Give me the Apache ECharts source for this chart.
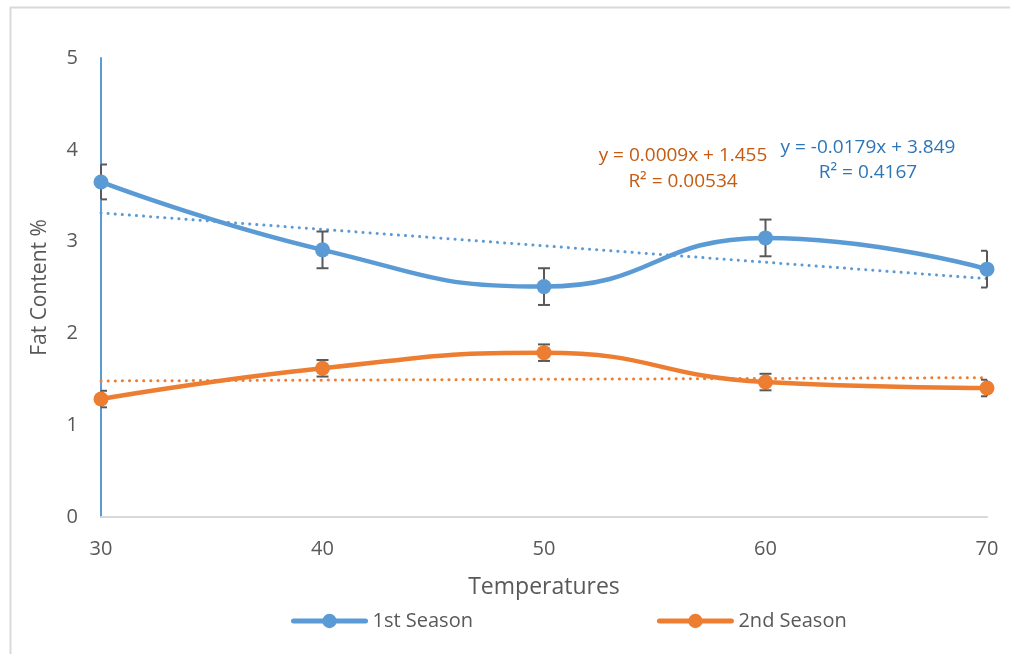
<!DOCTYPE html>
<html>
<head>
<meta charset="utf-8">
<script src="https://cdn.jsdelivr.net/npm/echarts@6/dist/echarts.min.js"></script>
<style>
  html, body { margin: 0; padding: 0; background: #fff; }
  #main { width: 1010px; height: 654px; }
</style>
</head>
<body>
<div id="main"></div>
<script>
// данные
const temps = [30, 40, 50, 60, 70];
const season1 = [3.65, 2.91, 2.51, 3.04, 2.70];
const season2 = [1.285, 1.62, 1.79, 1.47, 1.405];
const err1 = [0.19, 0.2, 0.2, 0.2, 0.2];
const err2 = [0.09, 0.09, 0.09, 0.09, 0.09];
// концы линий тренда (значения при 30 и 70)
const trendX = [30, 70];
const trend1 = [3.312, 2.596];
const trend2 = [1.482, 1.518];
const yTicks = [0, 1, 2, 3, 4, 5];

const blue = '#5B9BD5';
const orange = '#ED7D31';
const txt = '#595959';
const font = '"Open Sans", sans-serif';

const pairs = (xs, ys) => xs.map((x, i) => [x, ys[i]]);
const bars = (ys, es) => temps.map((x, i) => [x, ys[i] - es[i], ys[i] + es[i]]);

function errorBar(params, api) {
  const x = api.value(0);
  const lo = api.coord([x, api.value(1)]);
  const hi = api.coord([x, api.value(2)]);
  const cs = params.coordSys;
  const w = 6;
  const l = Math.max(lo[0] - w, cs.x);
  const r = Math.min(lo[0] + w, cs.x + cs.width);
  const style = { stroke: '#595959', lineWidth: 2, fill: null };
  return {
    type: 'group',
    children: [
      { type: 'line', shape: { x1: lo[0], y1: lo[1], x2: hi[0], y2: hi[1] }, style },
      { type: 'line', shape: { x1: l, y1: lo[1], x2: r, y2: lo[1] }, style },
      { type: 'line', shape: { x1: l, y1: hi[1], x2: r, y2: hi[1] }, style }
    ]
  };
}

let chart = echarts.init(document.getElementById('main'));
chart.setOption({
  animation: false,
  backgroundColor: '#fff',
  textStyle: { fontFamily: font },
  grid: { left: 101, right: 23, top: 58, bottom: 137 },
  legend: {
    data: ['1st Season', '2nd Season'],
    bottom: 18,
    left: 286,
    itemWidth: 72,
    itemHeight: 18,
    itemGap: 184,
    lineStyle: { width: 5, cap: 'round' },
    textStyle: { color: txt, fontSize: 20, fontFamily: font, padding: [0, 0, 0, 2] }
  },
  xAxis: {
    type: 'value',
    min: 30,
    max: 70,
    interval: 10,
    name: 'Temperatures',
    nameLocation: 'middle',
    nameGap: 59,
    nameTextStyle: { color: txt, fontSize: 23, fontFamily: font },
    axisLine: { lineStyle: { color: '#D9D9D9', width: 2 } },
    axisTick: { show: false },
    splitLine: { show: false },
    axisLabel: { color: txt, fontSize: 20, margin: 22, fontFamily: font }
  },
  yAxis: {
    type: 'value',
    min: yTicks[0],
    max: yTicks[yTicks.length - 1],
    interval: 1,
    name: 'Fat Content %',
    nameLocation: 'middle',
    nameGap: 50,
    nameTextStyle: { color: txt, fontSize: 21, fontFamily: font },
    axisLine: { show: true, lineStyle: { color: blue, width: 2 } },
    axisTick: { show: false },
    splitLine: { show: false },
    axisLabel: { color: txt, fontSize: 20, margin: 23, fontFamily: font }
  },
  series: [
    {
      name: '1st Season trend',
      type: 'line',
      data: pairs(trendX, trend1),
      symbol: 'none',
      lineStyle: { color: blue, width: 3, type: [0.1, 7], cap: 'round' },
      silent: true,
      z: 1
    },
    {
      name: '2nd Season trend',
      type: 'line',
      data: pairs(trendX, trend2),
      symbol: 'none',
      lineStyle: { color: orange, width: 3, type: [0.1, 7], cap: 'round' },
      silent: true,
      z: 1
    },
    {
      name: '1st Season',
      type: 'line',
      data: pairs(temps, season1),
      smooth: 0.5,
      symbol: 'circle',
      symbolSize: 15,
      itemStyle: { color: blue },
      lineStyle: { color: blue, width: 4.5 },
      z: 3
    },
    {
      name: '2nd Season',
      type: 'line',
      data: pairs(temps, season2),
      smooth: 0.5,
      symbol: 'circle',
      symbolSize: 15,
      itemStyle: { color: orange },
      lineStyle: { color: orange, width: 4.5 },
      z: 3
    },
    {
      name: 'err1',
      type: 'custom',
      renderItem: errorBar,
      data: bars(season1, err1),
      encode: { x: 0, y: [1, 2] },
      z: 2
    },
    {
      name: 'err2',
      type: 'custom',
      renderItem: errorBar,
      data: bars(season2, err2),
      encode: { x: 0, y: [1, 2] },
      z: 2
    }
  ],
  graphic: [
    { type: 'rect', left: 8, top: 5, shape: { width: 1010, height: 660 },
      style: { fill: 'none', stroke: '#D9D9D9', lineWidth: 2 }, silent: true },
    { type: 'text', x: 683, y: 156, style: { text: 'y = 0.0009x + 1.455', fill: '#C55A11',
      font: '19px ' + font, align: 'center', verticalAlign: 'middle' } },
    { type: 'text', x: 683, y: 182, style: { text: 'R² = 0.00534', fill: '#C55A11',
      font: '19px ' + font, align: 'center', verticalAlign: 'middle' } },
    { type: 'text', x: 868, y: 148, style: { text: 'y = -0.0179x + 3.849', fill: '#2E75B6',
      font: '19px ' + font, align: 'center', verticalAlign: 'middle' } },
    { type: 'text', x: 868, y: 173, style: { text: 'R² = 0.4167', fill: '#2E75B6',
      font: '19px ' + font, align: 'center', verticalAlign: 'middle' } }
  ]
});
</script>
</body>
</html>
